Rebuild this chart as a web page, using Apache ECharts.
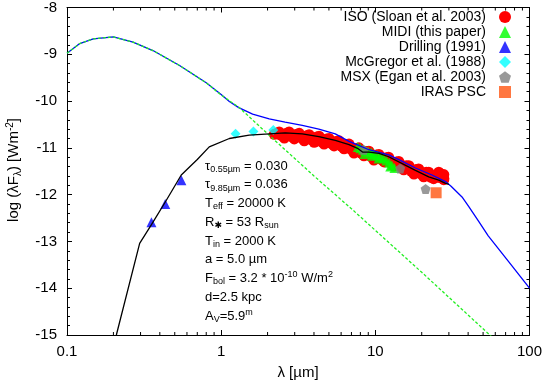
<!DOCTYPE html>
<html><head><meta charset="utf-8">
<script src="https://cdn.jsdelivr.net/npm/echarts@6/dist/echarts.min.js"></script>
<style>html,body{margin:0;padding:0;background:#fff}#c{width:545px;height:382px}</style>
</head><body><div id="c"></div>
<script>
// ---- tick labels ----
const xTickValues = [0.1, 1, 10, 100];
const xTickLabels = ['0.1', '1', '10', '100'];
const xMinorTicks = [0.2,0.3,0.4,0.5,0.6,0.7,0.8,0.9,2,3,4,5,6,7,8,9,20,30,40,50,60,70,80,90];
const yTickLabels = {'-15':'-15','-14':'-14','-13':'-13','-12':'-12','-11':'-11','-10':'-10','-9':'-9','-8':'-8'};

// ---- model curves [lambda (um), log(lambda F_lambda)] ----
const stellarModel = [[0.1,-8.98],[0.121,-8.77],[0.148,-8.67],[0.2,-8.63],[0.268,-8.74],[0.361,-8.92],[0.537,-9.24],[0.8,-9.61],[1.0,-9.87],[1.31,-10.14],[2.16,-10.80],[4.0,-11.60],[7.1,-12.32],[20,-13.66],[57,-15.04]];
const totalModel = [[0.1,-8.98],[0.121,-8.77],[0.148,-8.67],[0.2,-8.63],[0.268,-8.74],[0.361,-8.92],[0.537,-9.24],[0.8,-9.61],[1.0,-9.86],[1.13,-10.01],[1.3,-10.14],[1.6,-10.28],[2.05,-10.38],[2.6,-10.45],[3.36,-10.52],[4.3,-10.60],[5.5,-10.70],[6.75,-10.86],[7.6,-10.93],[9.09,-11.04],[12.2,-11.15],[14.2,-11.25],[18.2,-11.43],[23.3,-11.58],[28.5,-11.72],[31,-11.82],[36.5,-12.05],[40.3,-12.25],[46.6,-12.56],[54,-12.88],[72.8,-13.42],[100,-14.0]];
const reddenedModel = [[0.209,-15.0],[0.296,-13.04],[0.353,-12.64],[0.441,-12.12],[0.551,-11.58],[0.7,-11.25],[0.837,-10.98],[1.13,-10.80],[1.52,-10.73],[2.05,-10.70],[2.6,-10.68],[3.36,-10.70],[4.3,-10.76],[5.5,-10.84],[6.75,-10.93],[7.67,-11.01],[8.26,-11.09],[9.09,-11.09],[10.55,-11.12],[12.2,-11.19],[14.2,-11.30],[18.2,-11.48],[22.2,-11.62],[25.8,-11.69],[28.5,-11.76],[30,-11.78]];

// ---- observations ----
const isoData = [
 [2.21,-10.71],[2.38,-10.71],[2.57,-10.71],[2.76,-10.72],[2.98,-10.73],[3.21,-10.75],[3.46,-10.77],[3.72,-10.78],[4.01,-10.80],[4.32,-10.82],[4.65,-10.84],[5.01,-10.86],[5.40,-10.88],[5.82,-10.91],[6.27,-10.94],[6.75,-10.98],[7.27,-11.03],[7.83,-11.06],[8.44,-11.09],[9.09,-11.13],[9.79,-11.18],[10.55,-11.20],[11.4,-11.22],[12.2,-11.26],[13.2,-11.31],[14.2,-11.35],[15.3,-11.39],[16.5,-11.44],[17.8,-11.48],[19.1,-11.51],[20.6,-11.54],[22.2,-11.58],[23.9,-11.61],[25.8,-11.63],[27.8,-11.65],
 [2.38,-10.66],[2.76,-10.66],[3.21,-10.69],[3.72,-10.72],[4.32,-10.75],[5.01,-10.80],[5.82,-10.85],[6.75,-10.92],[7.83,-11.00],[9.09,-11.07],[10.55,-11.14],[12.2,-11.20],[14.2,-11.29],[16.5,-11.38],[19.1,-11.45],[22.2,-11.52],[25.8,-11.52],[27.8,-11.57],
 [2.57,-10.79],[2.98,-10.81],[3.46,-10.85],[4.01,-10.88],[4.65,-10.92],[5.40,-10.96],[6.27,-11.02],[7.27,-11.11],[8.44,-11.17],[9.79,-11.26],[11.4,-11.30],[13.2,-11.39],[15.3,-11.47],[17.8,-11.56],[20.6,-11.62],[23.9,-11.66],[27.8,-11.68],
 [2.30,-10.69],[2.47,-10.74],[2.66,-10.69],[2.87,-10.76],[3.09,-10.71],[3.33,-10.79],[3.59,-10.74],[3.86,-10.83],[4.16,-10.77],[4.48,-10.87],[4.83,-10.81],[5.20,-10.91],[5.61,-10.86],[6.04,-10.97],[6.51,-10.93],[7.0,-11.04],[7.55,-11.02],[8.13,-11.12],[8.76,-11.08],[9.43,-11.19],[10.17,-11.15],[10.97,-11.25],[11.8,-11.21],[12.7,-11.33],[13.7,-11.30],[14.75,-11.41],[15.9,-11.38],[17.15,-11.50],[18.45,-11.46],[19.85,-11.56],[21.4,-11.52],[23.0,-11.63],[24.85,-11.58],[26.8,-11.64]
];
const midiData = [[7.7,-10.98],[8.0,-11.01],[8.3,-11.04],[8.6,-11.06],[9.0,-11.08],[9.4,-11.10],[9.8,-11.13],[10.3,-11.16],[10.8,-11.19],[11.3,-11.22],[11.8,-11.27],[12.3,-11.32],[12.8,-11.37],[13.3,-11.43],[8.5,-11.13],[9.5,-11.17],[10.5,-11.23],[12.5,-11.40]];
const drillingData = [[0.353,-12.59],[0.434,-12.20],[0.552,-11.69]];
const mcgregorData = [[1.24,-10.70],[1.62,-10.65],[2.18,-10.62]];
const msxData = [[8.4,-11.04],[14.5,-11.44],[21.2,-11.88]];
const irasData = [[24.8,-11.96]];

const seriesNames = ['ISO (Sloan et al. 2003)','MIDI (this paper)','Drilling (1991)','McGregor et al. (1988)','MSX (Egan et al. 2003)','IRAS PSC'];

const annotations = [
 '{n|τ}{s|0.55µm}{n| = 0.030}',
 '{n|τ}{s|9.85µm}{n| = 0.036}',
 '{n|T}{s|eff}{n| = 20000 K}',
 '{n|R}{s|✱}{n| = 53 R}{s|sun}',
 '{n|T}{s|in}{n| = 2000 K}',
 '{n|a = 5.0 µm}',
 '{n|F}{s|bol}{n| = 3.2 * 10}{p|-10}{n| W/m}{p|2}',
 '{n|d=2.5 kpc}',
 '{n|A}{s|V}{n|=5.9}{p|m}'
];

const FONT = 'Liberation Sans, Arial, Helvetica, DejaVu Sans, sans-serif';
const pentagon = 'path://M0,-1 L0.951,-0.309 L0.588,0.809 L-0.588,0.809 L-0.951,-0.309 Z';

const chart = echarts.init(document.getElementById('c'), null, {renderer:'canvas'});

function xLabel(v){
  const i = xTickValues.findIndex(t => Math.abs(Math.log10(t) - Math.log10(v)) < 1e-6);
  return i >= 0 ? xTickLabels[i] : '';
}
const richAnno = {
  n:{fontSize:13, fontFamily:FONT, color:'#000', lineHeight:18},
  s:{fontSize:9, fontFamily:FONT, color:'#000', verticalAlign:'bottom', padding:[0,0,1,0]},
  p:{fontSize:9, fontFamily:FONT, color:'#000', verticalAlign:'top', padding:[1,0,0,0]}
};
const graphics = annotations.map((t,i) => ({
  type:'text', x:205, y:166 + i*18.75, z:100,
  style:{text:t, rich:richAnno, align:'left', verticalAlign:'middle', fontFamily:FONT}
}));
graphics.push({
  type:'text', x:14, y:170, rotation:Math.PI/2, z:100,
  style:{text:'{n|log (λF}{s|λ}{n|) [Wm}{p|-2}{n|]}', align:'center', verticalAlign:'middle',
    rich:{n:{fontSize:15,fontFamily:FONT,color:'#000',lineHeight:20},
          s:{fontSize:10,fontFamily:FONT,color:'#000',verticalAlign:'bottom',padding:[0,0,1,0]},
          p:{fontSize:10,fontFamily:FONT,color:'#000',verticalAlign:'top',padding:[1,0,0,0]}}}
});
graphics.push({
  type:'text', x:298, y:373, z:100,
  style:{text:'λ [µm]', align:'center', verticalAlign:'middle', fontSize:15, fontFamily:FONT, fill:'#000'}
});

const axisLineStyle = {color:'#000', width:1};
const baseX = {
  type:'log', logBase:10, min:0.1, max:100,
  axisLine:{show:true, onZero:false, lineStyle:axisLineStyle},
  axisTick:{show:true, inside:true, length:5, lineStyle:axisLineStyle},
  splitLine:{show:false}
};
const baseY = {
  type:'value', min:-15, max:-8, interval:1,
  axisLine:{show:true, onZero:false, lineStyle:axisLineStyle},
  axisTick:{show:true, inside:true, length:5, lineStyle:axisLineStyle},
  minorTick:{show:true, splitNumber:5, length:3, lineStyle:axisLineStyle},
  splitLine:{show:false}
};

const option = {
  animation:false,
  backgroundColor:'#fff',
  textStyle:{fontFamily:FONT},
  grid:{left:67, right:14, top:7, bottom:47, containLabel:false},
  xAxis:[
    Object.assign({}, baseX, {position:'bottom',
      axisLabel:{show:true, margin:9, fontSize:15, color:'#000', fontFamily:FONT, formatter:xLabel}}),
    Object.assign({}, baseX, {position:'top', axisLabel:{show:false}})
  ],
  yAxis:[
    Object.assign({}, baseY, {position:'left',
      axisLabel:{show:true, margin:10, fontSize:15, color:'#000', fontFamily:FONT,
        formatter:v => yTickLabels[String(Math.round(v))] || String(v)}}),
    Object.assign({}, baseY, {position:'right', axisLabel:{show:false}})
  ],
  legend:{
    data:seriesNames, orient:'vertical', right:29, top:5, align:'right',
    itemWidth:12, itemHeight:12, itemGap:1,
    textStyle:{fontSize:14, color:'#000', fontFamily:FONT, padding:[0,8,0,0]},
    selectedMode:false
  },
  graphic:graphics,
  series:[
    {name:seriesNames[0], type:'scatter', data:isoData, symbol:'circle', symbolSize:11,
      itemStyle:{color:'#ff0000', opacity:1}, z:2},
    {name:seriesNames[1], type:'scatter', data:midiData, symbol:'triangle', symbolSize:10,
      itemStyle:{color:'#00ff00'}, z:3},
    {name:seriesNames[2], type:'scatter', data:drillingData, symbol:'triangle', symbolSize:10,
      itemStyle:{color:'#0000ff'}, z:3},
    {name:seriesNames[3], type:'scatter', data:mcgregorData, symbol:'diamond', symbolSize:10,
      itemStyle:{color:'#00ffff'}, z:3},
    {name:seriesNames[4], type:'scatter', data:msxData, symbol:pentagon, symbolSize:10,
      itemStyle:{color:'#808080'}, z:4},
    {name:seriesNames[5], type:'scatter', data:irasData, symbol:'rect', symbolSize:11,
      itemStyle:{color:'#ff5511'}, z:4},
    {name:'total', type:'line', data:totalModel, showSymbol:false, symbol:'none', smooth:false,
      lineStyle:{color:'#0000ff', width:1.3}, z:5},
    {name:'stellar', type:'line', data:stellarModel, showSymbol:false, symbol:'none',
      lineStyle:{color:'#22ee22', width:1.3, type:[3,2]}, z:6},
    {name:'reddened', type:'line', data:reddenedModel, showSymbol:false, symbol:'none',
      lineStyle:{color:'#000000', width:1.3}, z:6},
    {name:'minorTicks', type:'custom', xAxisIndex:0, yAxisIndex:0, silent:true, z:10,
      data:xMinorTicks.map(v => [v, -15]),
      renderItem:function(params, api){
        const x = api.coord([api.value(0), -15])[0];
        const cs = params.coordSys;
        return {type:'group', children:[
          {type:'line', shape:{x1:x, y1:cs.y+cs.height, x2:x, y2:cs.y+cs.height-3}, style:{stroke:'#000', lineWidth:1}},
          {type:'line', shape:{x1:x, y1:cs.y, x2:x, y2:cs.y+3}, style:{stroke:'#000', lineWidth:1}}
        ]};
      }}
  ]
};
chart.setOption(option);
</script>
</body></html>
